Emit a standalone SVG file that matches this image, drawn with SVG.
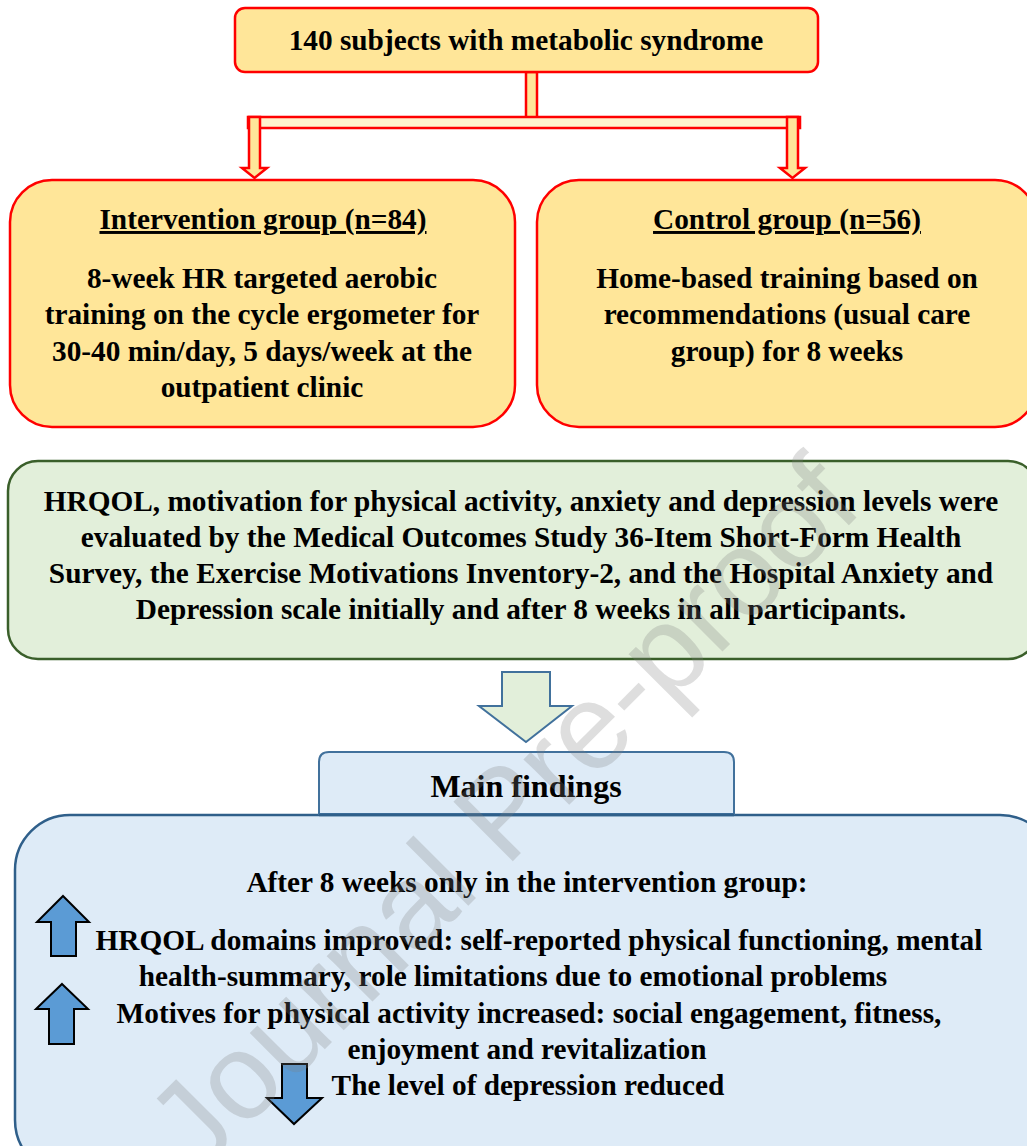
<svg xmlns="http://www.w3.org/2000/svg" width="1027" height="1146" viewBox="0 0 1027 1146">
<style>
.t{font-family:"Liberation Serif","Times New Roman",serif;font-weight:bold;fill:#000;text-anchor:middle;font-size:29.3px}
.y{fill:#FFE699;stroke:#FF0000;stroke-width:2.5}
.yl{fill:#FFF2CC;stroke:#FF0000;stroke-width:2.5}
.b{fill:#5B9BD5;stroke:#000;stroke-width:2}
</style>
<rect width="1027" height="1146" fill="#fff"/>
<g id="connectors">
<rect class="y" x="526" y="72" width="11" height="47"/>
<rect class="yl" x="248" y="117" width="552" height="11"/>
<polygon class="y" points="249,117 260,117 260,168 267,168 254.5,178 242,168 249,168"/>
<polygon class="y" points="787,117 798,117 798,168 805,168 792.5,178 780,168 787,168"/>
<polygon points="502,672 550,672 550,706 572,706 526,742 479,706 502,706" fill="#E2EFDA" stroke="#41719C" stroke-width="2"/>
</g>
<g id="start">
<rect class="y" x="235" y="8" width="583" height="64" rx="10"/>
<text class="t" x="526" y="50">140 subjects with metabolic syndrome</text>
</g>
<g id="intervention">
<rect class="y" x="10" y="180" width="505" height="247" rx="42"/>
<text class="t" x="263" y="229" text-decoration="underline">Intervention group (n=84)</text>
<text class="t" x="262" y="288">8-week HR targeted aerobic</text>
<text class="t" x="262" y="324">training on the cycle ergometer for</text>
<text class="t" x="262" y="361">30-40 min/day, 5 days/week at the</text>
<text class="t" x="262" y="397">outpatient clinic</text>
</g>
<g id="control">
<rect class="y" x="537" y="180" width="500" height="247" rx="42"/>
<text class="t" x="787" y="229" text-decoration="underline">Control group (n=56)</text>
<text class="t" x="787" y="288">Home-based training based on</text>
<text class="t" x="787" y="324">recommendations (usual care</text>
<text class="t" x="787" y="361">group) for 8 weeks</text>
</g>
<g id="evaluation">
<rect x="8" y="461" width="1030" height="198" rx="30" fill="#E2EFDA" stroke="#3A5F2A" stroke-width="2.5"/>
<text class="t" x="521" y="511">HRQOL, motivation for physical activity, anxiety and depression levels were</text>
<text class="t" x="521" y="547">evaluated by the Medical Outcomes Study 36-Item Short-Form Health</text>
<text class="t" x="521" y="583">Survey, the Exercise Motivations Inventory-2, and the Hospital Anxiety and</text>
<text class="t" x="521" y="619">Depression scale initially and after 8 weeks in all participants.</text>
</g>
<g id="findings">
<rect x="15" y="815" width="1040" height="360" rx="55" fill="#DEEBF7" stroke="#2F5F8A" stroke-width="2.5"/>
<path d="M319,814 V762 Q319,752 329,752 H724 Q734,752 734,762 V814 Z" fill="#DEEBF7" stroke="#41719C" stroke-width="2"/>
<line x1="319" y1="815" x2="734" y2="815" stroke="#2F5F8A" stroke-width="2.5"/>
<text class="t" x="526" y="797" style="font-size:32px">Main findings</text>
<text class="t" x="527" y="892">After 8 weeks only in the intervention group:</text>
<text class="t" x="539" y="950">HRQOL domains improved: self-reported physical functioning, mental</text>
<text class="t" x="513" y="986">health-summary, role limitations due to emotional problems</text>
<text class="t" x="529" y="1023">Motives for physical activity increased: social engagement, fitness,</text>
<text class="t" x="527" y="1059">enjoyment and revitalization</text>
<text class="t" x="528" y="1095">The level of depression reduced</text>
<polygon class="b" points="63,896 89,922 76,922 76,956 51,956 51,922 37,922"/>
<polygon class="b" points="62,984 88,1009 74,1009 74,1044 49,1044 49,1009 36,1009"/>
<polygon class="b" points="282,1064 307,1064 307,1098 322,1098 294,1124 267,1098 282,1098"/>
</g>
<text x="0" y="0" transform="translate(532,842) rotate(-45)" font-family="Liberation Sans,Arial,sans-serif" font-size="122" text-anchor="middle" fill="#808080" fill-opacity="0.26">Journal Pre-proof</text>
</svg>
